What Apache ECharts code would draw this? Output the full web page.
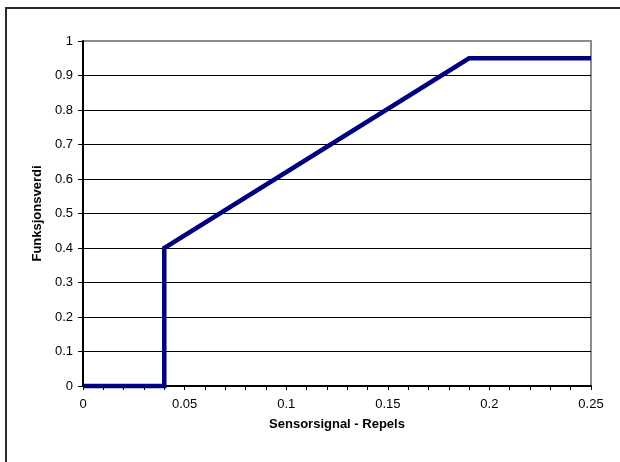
<!DOCTYPE html>
<html>
<head>
<meta charset="utf-8">
<script src="https://cdn.jsdelivr.net/npm/echarts@6/dist/echarts.min.js"></script>
<style>
  html, body { margin: 0; padding: 0; background: #fff; }
  #chart { width: 620px; height: 462px; }
</style>
</head>
<body>
<div id="chart"></div>
<script>
// Membership function: sensor signal (Repels) -> function value
const signalValues = [0, 0.04, 0.04, 0.19, 0.25];
const functionValues = [0, 0, 0.4, 0.95, 0.95];

const xTitle = 'Sensorsignal - Repels';
const yTitle = 'Funksjonsverdi';

const font = 'Arial, "Liberation Sans", sans-serif';

// gridlines are black; the one at the top edge stays the frame's grey
const gridColors = ['#000', '#000', '#000', '#000', '#000', '#000',
                    '#000', '#000', '#000', '#000', '#8c8c8c'];

const chart = echarts.init(document.getElementById('chart'), null, { renderer: 'canvas' });

chart.setOption({
  animation: false,
  backgroundColor: '#ffffff',
  graphic: [{
    type: 'rect',
    shape: { x: 6, y: 8, width: 700, height: 600 },
    style: { fill: 'none', stroke: '#2a2a2a', lineWidth: 2 },
    z: 100
  }],
  grid: {
    left: 83, top: 41, right: 29, bottom: 76,
    show: true,
    borderColor: '#8c8c8c',
    borderWidth: 2,
    backgroundColor: '#ffffff'
  },
  xAxis: {
    type: 'value',
    min: 0, max: 0.25, interval: 0.05,
    name: xTitle,
    nameLocation: 'middle',
    nameGap: 32,
    nameTextStyle: { fontFamily: font, fontSize: 13, fontWeight: 'bold', color: '#000' },
    axisLine: { show: true, onZero: false, lineStyle: { color: '#000', width: 2 } },
    axisTick: { show: true, inside: false, length: 4, lineStyle: { color: '#000', width: 1 } },
    minorTick: { show: true, splitNumber: 5, length: 4, lineStyle: { color: '#000', width: 1 } },
    axisLabel: { margin: 12, fontFamily: font, fontSize: 13, color: '#000' },
    splitLine: { show: false },
    minorSplitLine: { show: false }
  },
  yAxis: {
    type: 'value',
    min: 0, max: 1, interval: 0.1,
    name: yTitle,
    nameLocation: 'middle',
    nameGap: 34,
    nameRotate: 90,
    nameTextStyle: { fontFamily: font, fontSize: 13, fontWeight: 'bold', color: '#000' },
    axisLine: { show: true, onZero: false, lineStyle: { color: '#000', width: 2 } },
    axisTick: { show: true, inside: false, length: 5, lineStyle: { color: '#000', width: 1 } },
    axisLabel: { margin: 10, fontFamily: font, fontSize: 13, color: '#000' },
    splitLine: { show: true, lineStyle: { color: gridColors, width: 1 } }
  },
  series: [{
    type: 'line',
    data: signalValues.map((x, i) => [x, functionValues[i]]),
    symbol: 'none',
    clip: false,
    z: 5,
    lineStyle: { color: '#000080', width: 4.5, join: 'miter', cap: 'butt' }
  }]
});
</script>
</body>
</html>
